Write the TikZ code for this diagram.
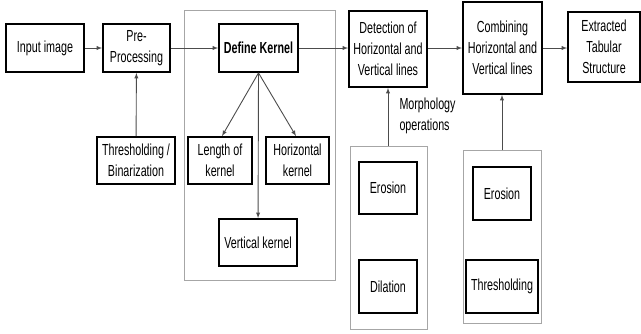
\documentclass[tikz,border=0pt]{standalone}
\usepackage{fontspec}
\setmainfont{Liberation Sans}[FakeStretch=0.67]
\tikzset{
  box/.style={draw,line width=1.8pt,align=center,inner sep=0pt},
  panel/.style={draw=gray!70,line width=0.8pt},
  arr/.style={-latex,draw=gray!60!black,line width=0.9pt},
}
\begin{document}
\begin{tikzpicture}[x=1pt,y=-1pt,font=\fontsize{16}{21}\selectfont]
\useasboundingbox (0,0) rectangle (641,333);
% panels
\draw[panel] (184,10) rectangle (335,280);
\draw[panel] (350,146) rectangle (427,329);
\draw[panel] (463,150) rectangle (541,323);
% main row
\node[box,minimum width=78,minimum height=48] (input) at (45,48) {Input image};
\node[box,minimum width=67,minimum height=48] (pre) at (136.5,48) {Pre-\\Processing};
\node[box,minimum width=79,minimum height=48,font=\fontsize{16}{21}\selectfont\bfseries] (kernel) at (258.5,48) {Define Kernel};
\node[box,minimum width=78,minimum height=76] (detect) at (388,49) {Detection of\\Horizontal and\\Vertical lines};
\node[box,minimum width=79,minimum height=92] (combine) at (502.5,48) {Combining\\Horizontal and\\Vertical lines};
\node[box,minimum width=72,minimum height=70] (extract) at (604,47) {Extracted\\Tabular\\Structure};
% lower boxes
\node[box,minimum width=78,minimum height=47] (binar) at (136,160.5) {Thresholding /\\Binarization};
\node[box,minimum width=64,minimum height=47] (length) at (220,160.5) {Length of\\kernel};
\node[box,minimum width=63,minimum height=47] (hker) at (297.5,160.5) {Horizontal\\kernel};
\node[box,minimum width=78,minimum height=47] (vker) at (258,242.5) {Vertical kernel};
\node[box,minimum width=58,minimum height=52] (ero1) at (388,188) {Erosion};
\node[box,minimum width=58,minimum height=53] (dil) at (388,286.5) {Dilation};
\node[box,minimum width=58,minimum height=53] (ero2) at (502,193.5) {Erosion};
\node[box,minimum width=72,minimum height=53] (thr) at (502,286.5) {Thresholding};
\node[anchor=west,align=left] (morph) at (396,116) {Morphology\\operations};
\coordinate (p2top) at (388,146);
\coordinate (p3top) at (502,150);
% connectors
\draw[arr] (input) -- (pre);
\draw[arr] (pre) -- (kernel);
\draw[arr] (kernel) -- (detect.west |- kernel);
\draw[arr] (detect.east |- kernel) -- (combine.west |- kernel);
\draw[arr] (combine.east |- kernel) -- (extract.west |- kernel);
\draw[arr] (binar) -- (pre);
\draw[arr] (kernel.south) -- (length.north -| 222,0);
\draw[arr] (kernel.south) -- (hker.north -| 296,0);
\draw[arr] (kernel.south) -- (vker);
\draw[arr] (p2top) -- (detect);
\draw[arr] (p3top) -- (combine.south -| p3top);
\end{tikzpicture}
\end{document}
